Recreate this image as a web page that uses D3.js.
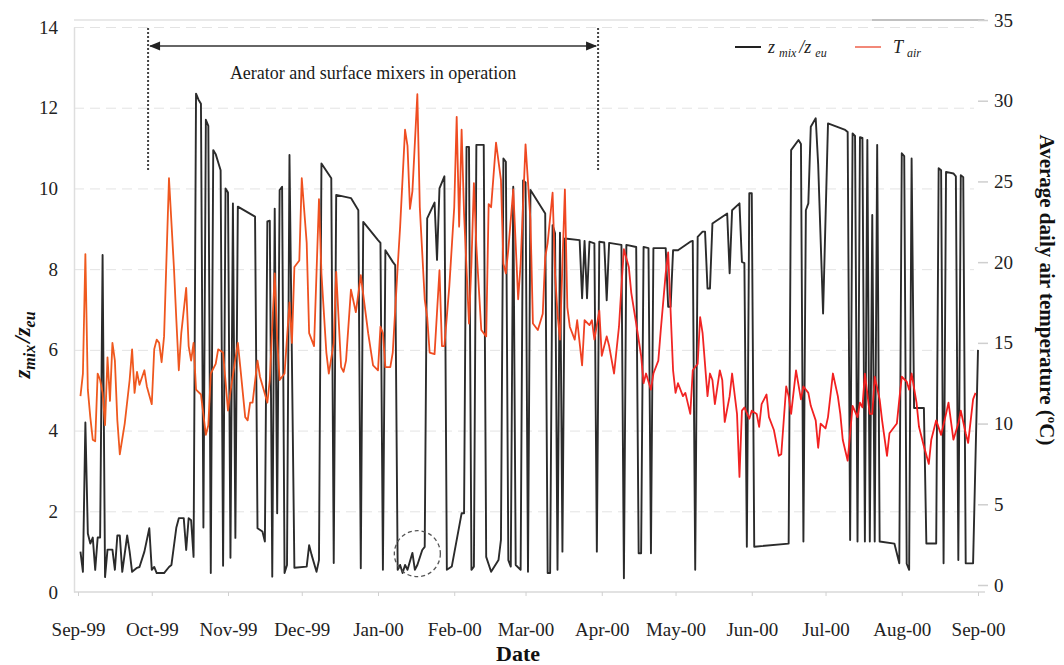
<!DOCTYPE html>
<html lang="en">
<head>
<meta charset="utf-8">
<script src="https://cdn.jsdelivr.net/npm/d3@7"></script>
<style>
  body { margin: 0; background: #fff; }
  svg, svg text { font-family: 'Liberation Serif', 'Times New Roman', serif; }
  .grid line { stroke: #e3e3e3; stroke-dasharray: 10 6; }
  .grid path { display: none; }
</style>
</head>
<body>
<svg width="1064" height="665"></svg>
<script>
// days since 1 Sep 1999
const startDate = new Date(1999, 8, 1);
const monthTicks = d3.timeMonth.range(new Date(1999, 8, 1), new Date(2000, 8, 2));
const leftTicks = [0, 2, 4, 6, 8, 10, 12, 14];
const rightTicks = [0, 5, 10, 15, 20, 25, 30, 35];
const operationDays = [28.5, 211.5];
const circledDay = 138, circledValue = 0.95;

// z_mix / z_eu  [day, value]
const zmixPoints = [[1,1.0],[2,0.5],[3,4.2],[4,1.45],[5,1.2],[6,1.35],[7,0.55],[8,1.35],[9,1.35],[10,8.35],[11,0.37],[12,1.05],[14,1.05],[15,0.55],[16,1.4],[17,1.4],[18,0.5],[20,1.4],[21,1.0],[22,0.5],[24,0.6],[25,0.62],[27,1.0],[29,1.58],[30,0.55],[31,0.62],[32,0.47],[35,0.47],[37,0.62],[38,0.67],[40,1.6],[41,1.83],[43,1.83],[44,1.04],[45,1.83],[46,1.78],[47,0.87],[48,12.35],[49,12.2],[50,12.1],[51,1.6],[52,11.7],[53,11.55],[54,0.47],[55,10.95],[56,10.85],[57,10.65],[58,10.45],[59,0.65],[60,10.0],[61,9.9],[62,0.85],[63,9.63],[64,1.34],[65,9.55],[72,9.3],[73,1.58],[75,1.5],[76,1.25],[77,9.18],[78,9.2],[79,0.38],[80,9.5],[81,1.95],[82,9.96],[83,10.04],[84,0.47],[85,0.67],[86,10.83],[88,0.6],[93,0.63],[94,1.16],[95,0.92],[97,0.5],[98,0.79],[99,10.62],[103,10.25],[104,0.72],[105,9.84],[111,9.76],[114,9.46],[115,0.59],[116,9.17],[122,8.72],[123,8.65],[124,0.55],[125,8.47],[128,8.18],[129,8.1],[130,0.55],[131,0.67],[132,0.47],[133,0.67],[134,0.55],[136,0.97],[137,0.55],[138,0.67],[140,1.04],[141,1.12],[142,9.26],[145,9.65],[146,8.23],[147,10.0],[149,10.3],[150,0.55],[152,0.63],[156,1.95],[157,1.95],[158,11.03],[159,11.03],[160,0.55],[161,0.63],[162,11.08],[165,11.08],[166,0.87],[168,0.5],[171,0.79],[172,1.29],[173,10.74],[174,10.66],[175,0.79],[176,0.63],[177,10.04],[178,0.67],[180,0.55],[181,10.2],[182,10.15],[183,0.5],[184,9.96],[190,9.38],[191,0.47],[192,0.47],[193,9.09],[194,8.89],[195,0.55],[196,8.9],[197,1.0],[198,8.76],[204,8.72],[205,7.28],[206,8.7],[207,7.28],[208,8.68],[210,8.64],[211,1.0],[212,8.68],[214,8.66],[215,7.23],[216,8.65],[221,8.6],[222,0.34],[223,8.6],[227,8.55],[228,0.96],[229,0.96],[230,8.55],[232,8.52],[233,0.96],[234,8.52],[239,8.52],[240,7.07],[241,7.07],[242,8.47],[244,8.47],[249,8.68],[250,8.7],[251,0.55],[252,8.8],[254,8.93],[255,8.93],[256,7.52],[257,7.52],[258,9.13],[264,9.38],[265,7.9],[266,9.46],[269,9.63],[270,8.18],[271,8.15],[272,1.12],[273,9.88],[274,9.88],[275,1.12],[289,1.2],[290,10.95],[293,11.2],[294,11.1],[295,1.25],[296,9.46],[297,9.63],[298,11.53],[300,11.74],[301,10.6],[303,6.9],[305,11.61],[312,11.45],[313,11.4],[314,1.29],[315,11.36],[316,11.3],[317,1.25],[318,11.27],[319,11.25],[320,1.25],[321,11.2],[322,1.25],[323,9.34],[324,1.25],[325,11.08],[326,1.25],[332,1.2],[334,0.71],[335,10.87],[336,10.8],[337,0.7],[338,0.55],[339,10.74],[340,4.56],[344,4.56],[345,1.2],[349,1.2],[350,10.5],[351,10.45],[352,0.71],[353,10.41],[356,10.37],[357,10.3],[358,0.79],[359,10.33],[360,10.28],[361,0.71],[364,0.71],[366,6.0]];

// average daily air temperature, degC  [day, value]
const tairPoints = [[1,11.7],[2,13.1],[3,20.5],[4,12.1],[5,10.4],[6,9.0],[7,8.9],[8,13.1],[9,12.7],[10,11.9],[11,9.9],[12,14.1],[13,11.4],[14,15.0],[15,13.9],[16,10.2],[17,8.1],[19,10.0],[21,12.7],[22,14.6],[23,11.9],[24,13.2],[25,12.4],[27,13.3],[28,12.3],[30,11.2],[31,14.6],[32,15.2],[33,15.0],[34,13.8],[35,15.4],[37,25.2],[39,19.7],[40,16.4],[41,13.3],[42,15.6],[44,18.4],[45,14.8],[46,13.9],[47,15.0],[48,12.1],[50,11.8],[52,9.3],[53,9.9],[54,13.1],[56,13.7],[57,14.6],[59,14.4],[61,10.8],[62,12.0],[65,15.0],[66,13.5],[68,10.4],[69,10.2],[70,11.3],[71,11.3],[73,13.9],[74,12.9],[77,11.3],[78,12.7],[80,19.3],[81,15.2],[82,12.7],[84,13.1],[86,17.5],[87,15.0],[88,19.7],[90,20.1],[91,25.2],[93,21.2],[94,15.6],[96,14.8],[98,23.9],[99,19.3],[101,14.4],[102,13.1],[104,15.0],[105,19.4],[107,13.5],[108,13.2],[109,13.9],[111,18.3],[113,16.9],[115,19.2],[117,16.8],[118,15.6],[120,13.6],[122,13.3],[123,16.0],[124,15.6],[125,13.5],[127,13.5],[128,14.4],[130,19.7],[131,22.2],[133,28.2],[134,27.2],[135,23.3],[136,24.4],[138,30.4],[139,23.4],[141,17.7],[142,16.6],[143,14.4],[145,14.3],[147,19.5],[148,14.8],[149,14.8],[151,18.5],[153,23.4],[154,29.0],[155,22.2],[156,28.2],[157,23.0],[159,16.2],[160,19.9],[161,24.9],[162,21.0],[164,15.8],[166,15.4],[167,23.6],[168,23.4],[170,27.4],[172,25.1],[173,19.9],[174,19.3],[175,20.8],[177,24.5],[179,17.7],[180,19.9],[182,27.3],[184,22.6],[185,16.2],[187,15.8],[189,16.8],[190,20.3],[191,21.2],[193,24.3],[194,19.3],[195,16.8],[196,15.2],[198,24.5],[199,17.2],[200,16.0],[202,15.2],[203,16.4],[205,13.6],[206,16.4],[208,16.1],[209,16.4],[210,15.2],[212,17.0],[213,14.2],[215,15.4],[216,14.8],[218,13.1],[220,16.0],[221,18.5],[222,20.8],[224,19.7],[225,18.1],[227,16.2],[229,14.2],[230,12.5],[231,13.1],[233,12.1],[234,13.1],[236,13.9],[237,15.8],[239,19.3],[240,20.6],[242,13.3],[243,11.9],[244,12.5],[246,11.7],[247,11.9],[249,10.6],[250,13.3],[252,13.7],[253,16.6],[254,15.6],[256,11.7],[257,13.1],[258,12.7],[259,11.2],[261,13.3],[262,12.7],[263,10.1],[265,11.7],[266,13.1],[268,10.6],[269,6.7],[270,10.8],[271,11.0],[273,10.3],[274,10.8],[276,10.6],[277,9.8],[278,11.2],[280,11.8],[281,10.4],[283,9.6],[285,8.0],[286,8.1],[288,12.3],[289,11.7],[290,10.6],[292,13.3],[294,11.5],[295,12.3],[297,11.9],[298,11.1],[300,10.2],[301,8.5],[302,10.0],[304,9.7],[305,10.4],[307,13.1],[309,11.7],[310,10.6],[311,9.0],[313,7.7],[314,9.4],[315,11.1],[317,10.4],[318,11.3],[319,11.0],[320,13.1],[322,10.6],[323,10.6],[324,12.9],[326,11.5],[327,10.2],[329,8.0],[330,9.4],[331,9.6],[333,10.0],[334,11.5],[335,12.9],[337,12.6],[338,12.1],[339,13.1],[341,11.3],[342,9.8],[344,8.6],[346,7.5],[347,9.0],[349,10.2],[351,9.3],[353,10.6],[354,11.3],[356,9.0],[358,10.0],[359,10.8],[361,9.4],[362,8.8],[364,11.5],[365,11.9]];

const svg = d3.select("svg");
const serif = "'Liberation Serif', 'Times New Roman', serif";
const day = d => d3.timeDay.offset(startDate, Math.floor(d)).getTime() + (d % 1) * 864e5;

const x = d3.scaleTime().domain([startDate, new Date(2000, 8, 1)]).range([78, 978]);
const yL = d3.scaleLinear().domain([0, 14]).range([592, 27]);
const yR = d3.scaleLinear().domain([0, 35]).range([585, 20]);

// gridlines
svg.append("g").attr("class", "grid")
  .attr("transform", "translate(74,0)")
  .call(d3.axisLeft(yL).tickValues(leftTicks.slice(1)).tickSize(-900).tickFormat(""));

// top frame line and right tick stub
svg.append("line").attr("x1", 74).attr("x2", 985).attr("y1", 20).attr("y2", 20)
  .attr("stroke", "#e2e2e2").attr("stroke-width", 1.5);
svg.append("line").attr("x1", 872).attr("x2", 984).attr("y1", 20).attr("y2", 20)
  .attr("stroke", "#999").attr("stroke-width", 1.2);

// left axis
const gl = svg.append("g").attr("transform", "translate(74,0)")
  .call(d3.axisLeft(yL).tickValues(leftTicks).tickSize(0).tickPadding(16))
  .attr("font-family", serif).attr("font-size", 19);
gl.select(".domain").attr("stroke", "#dedede").attr("stroke-width", 1.5);
gl.selectAll("text").attr("fill", "#222");

// right axis
const gr = svg.append("g").attr("transform", "translate(978,0)")
  .call(d3.axisRight(yR).tickValues(rightTicks).tickSize(10).tickPadding(6))
  .attr("font-family", serif).attr("font-size", 19);
gr.select(".domain").remove();
gr.selectAll(".tick line").attr("stroke", "#cfcfcf").attr("stroke-width", 1.5);
gr.selectAll("text").attr("fill", "#222");

// bottom axis
const gb = svg.append("g").attr("transform", "translate(0,592)")
  .call(d3.axisBottom(x).tickValues(monthTicks).tickFormat(d3.timeFormat("%b-%y"))
    .tickSizeInner(4).tickSizeOuter(0).tickPadding(27))
  .attr("font-family", serif).attr("font-size", 19);
gb.select(".domain").attr("stroke", "#d8d8d8").attr("stroke-width", 1.5)
  .attr("d", "M74,0H985");
gb.selectAll(".tick line").attr("stroke", "#d0d0d0");
gb.selectAll("text").attr("fill", "#222");

// red line colour drifts from orange-red to red like the print
const grad = svg.append("defs").append("linearGradient").attr("id", "tairGrad")
  .attr("gradientUnits", "userSpaceOnUse").attr("x1", 78).attr("x2", 978).attr("y1", 0).attr("y2", 0);
grad.append("stop").attr("offset", "0%").attr("stop-color", "#ef5a1e");
grad.append("stop").attr("offset", "55%").attr("stop-color", "#ef4622");
grad.append("stop").attr("offset", "62%").attr("stop-color", "#f02626");
grad.append("stop").attr("offset", "100%").attr("stop-color", "#f41c1c");

const zLine = d3.line().x(d => x(day(d[0]))).y(d => yL(d[1]));
const tLine = d3.line().x(d => x(day(d[0]))).y(d => yR(d[1]));

svg.append("path").datum(zmixPoints).attr("d", zLine)
  .attr("fill", "none").attr("stroke", "#2b2b2b").attr("stroke-width", 1.9)
  .attr("stroke-linejoin", "round");
svg.append("path").datum(tairPoints).attr("d", tLine)
  .attr("fill", "none").attr("stroke", "url(#tairGrad)").attr("stroke-width", 1.8)
  .attr("stroke-linejoin", "round");

// operation period annotation
const xs = operationDays.map(d => x(day(d)));
xs.forEach(xx => {
  svg.append("line").attr("x1", xx).attr("x2", xx).attr("y1", 28).attr("y2", 170)
    .attr("stroke", "#444").attr("stroke-width", 2).attr("stroke-dasharray", "2 2");
});
svg.append("line").attr("x1", xs[0] + 2).attr("x2", xs[1] - 2).attr("y1", 46).attr("y2", 46)
  .attr("stroke", "#333").attr("stroke-width", 1.5);
svg.append("path").attr("d", `M${xs[0] + 1},46 l11,-4.5 v9 z`).attr("fill", "#222");
svg.append("path").attr("d", `M${xs[1] - 1},46 l-11,-4.5 v9 z`).attr("fill", "#222");
svg.append("text").attr("x", (xs[0] + xs[1]) / 2).attr("y", 79)
  .attr("text-anchor", "middle").attr("font-size", 18).attr("fill", "#1a1a1a")
  .text("Aerator and surface mixers in operation");

// dashed circle
svg.append("circle").attr("cx", x(day(circledDay))).attr("cy", yL(circledValue)).attr("r", 23)
  .attr("fill", "none").attr("stroke", "#555").attr("stroke-width", 1.3).attr("stroke-dasharray", "4 3");

// legend
svg.append("line").attr("x1", 735).attr("x2", 761).attr("y1", 47).attr("y2", 47)
  .attr("stroke", "#222").attr("stroke-width", 2);
const lz = svg.append("text").attr("x", 768).attr("y", 53).attr("font-size", 18)
  .attr("font-style", "italic").attr("fill", "#222");
lz.append("tspan").text("z");
lz.append("tspan").attr("font-size", 12).attr("dy", 4).attr("dx", 4).text("mix");
lz.append("tspan").attr("dy", -4).attr("dx", 3).text("/z");
lz.append("tspan").attr("font-size", 12).attr("dy", 4).attr("dx", 4).text("eu");
svg.append("line").attr("x1", 855).attr("x2", 881).attr("y1", 47).attr("y2", 47)
  .attr("stroke", "#f28878").attr("stroke-width", 2);
const lt = svg.append("text").attr("x", 893).attr("y", 53).attr("font-size", 18)
  .attr("font-style", "italic").attr("fill", "#222");
lt.append("tspan").text("T");
lt.append("tspan").attr("font-size", 12).attr("dy", 4).attr("dx", 4).text("air");

// axis titles
const tl = svg.append("text").attr("transform", "translate(30,345) rotate(-90)")
  .attr("text-anchor", "middle").attr("font-size", 23).attr("font-weight", "bold")
  .attr("font-style", "italic").attr("fill", "#111");
tl.append("tspan").text("z");
tl.append("tspan").attr("font-size", 16).attr("dy", 5).text("mix");
tl.append("tspan").attr("dy", -5).attr("dx", 2).text("/z");
tl.append("tspan").attr("font-size", 16).attr("dy", 5).text("eu");

const tr = svg.append("text").attr("transform", "translate(1040,290) rotate(90)")
  .attr("text-anchor", "middle").attr("font-size", 21).attr("font-weight", "bold").attr("fill", "#111");
tr.append("tspan").text("Average daily air temperature (");
tr.append("tspan").attr("font-size", 13).attr("dy", -8).text("o");
tr.append("tspan").attr("dy", 8).text("C)");

svg.append("text").attr("x", 518).attr("y", 661).attr("text-anchor", "middle")
  .attr("font-size", 22).attr("font-weight", "bold").attr("fill", "#111").text("Date");
</script>
</body>
</html>
